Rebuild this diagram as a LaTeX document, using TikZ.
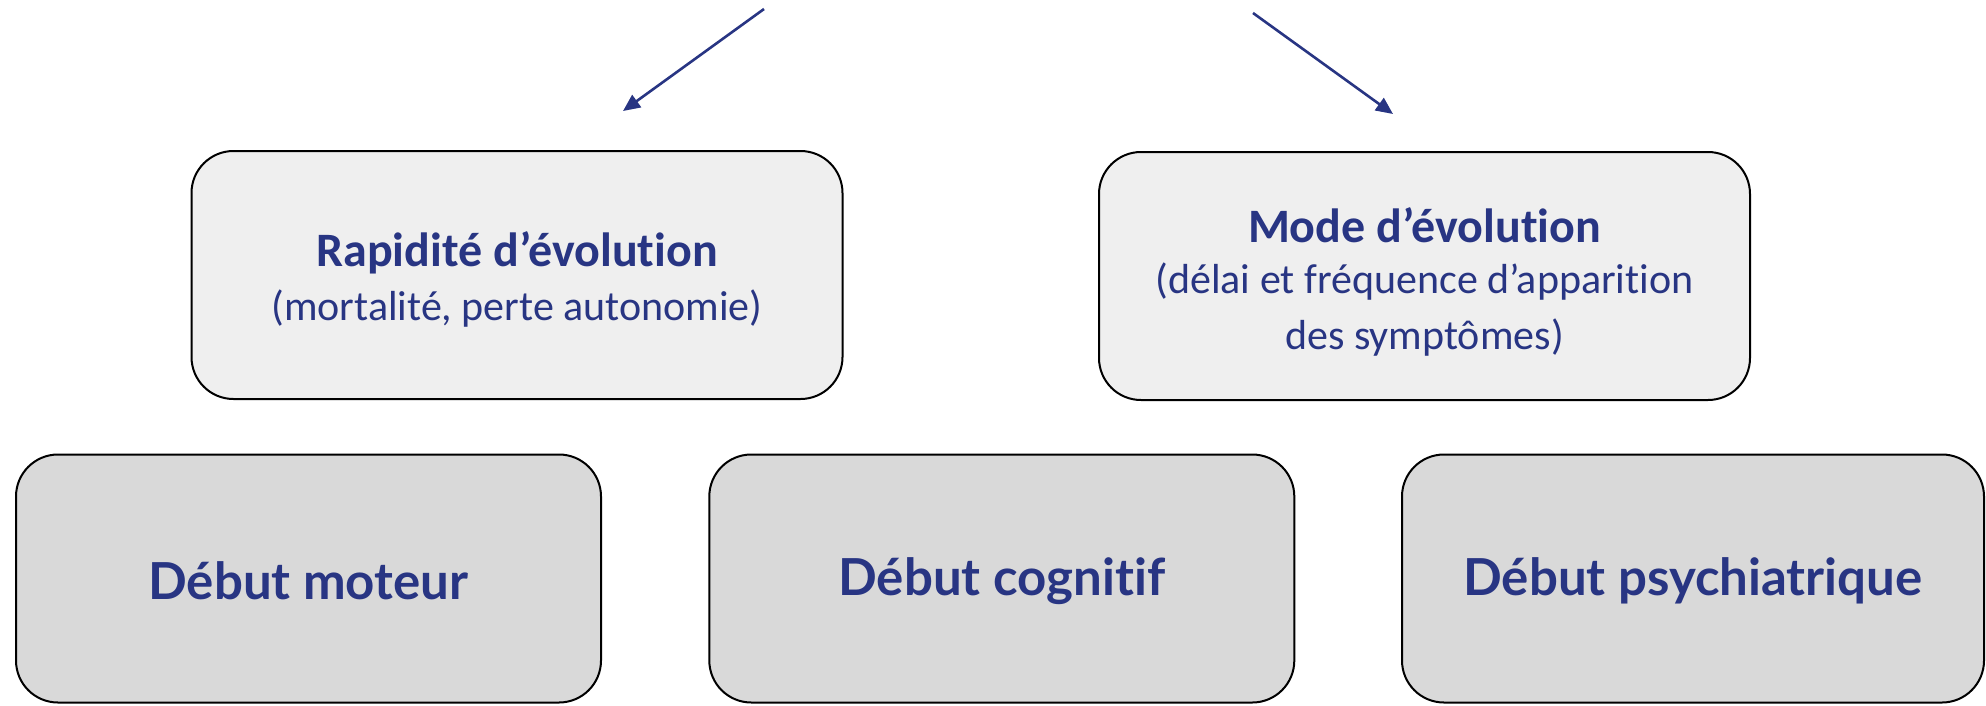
\documentclass[tikz,border=0pt]{standalone}
\usepackage{fontspec}
\setmainfont{Carlito}[Ligatures=NoCommon]
\newfontfamily\gill{Lato}[Ligatures=NoCommon]
\usetikzlibrary{arrows.meta}
\definecolor{txtblue}{HTML}{283583}
\definecolor{topfill}{HTML}{EFEFEF}
\definecolor{botfill}{HTML}{D9D9D9}
\tikzset{
  topbox/.style={draw=black, line width=2pt, fill=topfill, rounded corners=42pt,
    minimum width=651pt, minimum height=248pt, inner sep=0pt, align=center,
    text=txtblue, font=\fontsize{42}{56}\selectfont},
  botbox/.style={draw=black, line width=2pt, fill=botfill, rounded corners=42pt,
    minimum width=585pt, minimum height=248pt, inner sep=0pt, align=center,
    text=txtblue, font=\gill\bfseries\fontsize{51}{60}\selectfont},
  conn/.style={draw=txtblue, line width=2.6pt, -{Triangle[length=17pt,width=15pt]}},
}
\newcommand{\ttl}[2]{\raisebox{0pt}[\dimexpr\height+#1\relax]{\bfseries\fontsize{48}{56}\selectfont #2}}
\newcommand{\lowered}[2]{\raisebox{0pt}[\dimexpr\height+#1\relax]{#2}}
\begin{document}
\begin{tikzpicture}[x=1pt,y=-1pt]
\useasboundingbox (0,0) rectangle (1986,705);
\node[topbox] (rap) at (517,275) {\ttl{9pt}{Rapidité d’évolution}\\[-2pt](mortalité, perte autonomie)};
\node[topbox] (mode) at (1424.5,276) {\ttl{12pt}{Mode d’évolution}\\[-5pt](délai et fréquence d’apparition\\des symptômes)};
\node[botbox] (mot) at (308.5,578.5) {\lowered{5pt}{Début moteur}};
\node[botbox] (cog) at (1001.8,578.5) {\lowered{5pt}{Début cognitif}};
\node[botbox, minimum width=582pt] (psy) at (1693,578.5) {\lowered{5pt}{Début psychiatrique}};
\coordinate (s1) at (764,9);
\coordinate (e1) at (623,111);
\coordinate (s2) at (1253,13);
\coordinate (e2) at (1393,114);
\draw[conn] (s1) -- (e1);
\draw[conn] (s2) -- (e2);
\end{tikzpicture}
\end{document}
